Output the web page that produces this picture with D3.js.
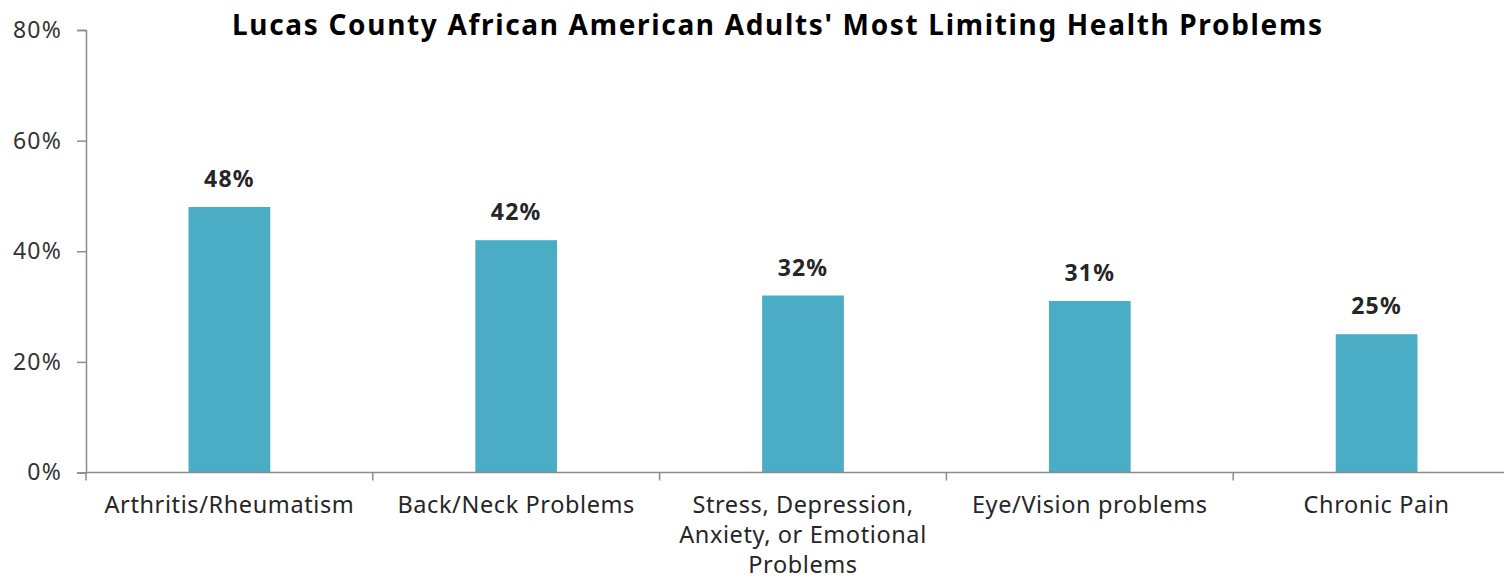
<!DOCTYPE html>
<html>
<head>
<meta charset="utf-8">
<script src="https://cdn.jsdelivr.net/npm/d3@7"></script>
<style>
  html, body { margin: 0; padding: 0; background: #fff; }
  svg { display: block; }
</style>
</head>
<body>
<svg id="chart" width="1504" height="580"></svg>
<script>
const title = "Lucas County African American Adults' Most Limiting Health Problems";
const categories = ["Arthritis/Rheumatism", "Back/Neck Problems", "Stress, Depression, Anxiety, or Emotional Problems", "Eye/Vision problems", "Chronic Pain"];
const categoryLines = [["Arthritis/Rheumatism"], ["Back/Neck Problems"], ["Stress, Depression,", "Anxiety, or Emotional", "Problems"], ["Eye/Vision problems"], ["Chronic Pain"]];
const values = [48, 42, 32, 31, 25];
const yTicks = [0, 20, 40, 60, 80];

(function () {
const svg = d3.select("#chart");
const font = "'Noto Sans', 'Open Sans', sans-serif";
const textColor = "#262626";
const axisColor = "#8c8c8c";
const barColor = "#4BACC6";

const plotLeft = 86, step = 286.8, plotTop = 30, plotBottom = 472.5;
const x = d3.scaleBand().domain(categories).range([plotLeft, plotLeft + step * categories.length])
  .paddingInner(0.715).paddingOuter(0.3575);
const xBand = d3.scaleBand().domain(categories).range([plotLeft, plotLeft + step * categories.length]).padding(0);
const y = d3.scaleLinear().domain([0, 80]).range([plotBottom, plotTop]);

// Title
svg.append("text")
  .attr("x", 777).attr("y", 35)
  .attr("text-anchor", "middle")
  .attr("font-family", font).attr("font-weight", "bold").attr("font-size", 28)
  .attr("textLength", 1090).attr("lengthAdjust", "spacing")
  .attr("fill", "#000")
  .text(title);

// Y axis
const yAxis = svg.append("g").attr("transform", `translate(${plotLeft},0)`)
  .call(d3.axisLeft(y).tickValues(yTicks).tickSize(9).tickPadding(15).tickFormat(d => d + "%"));
yAxis.select(".domain").attr("stroke", axisColor).attr("stroke-width", 1.5);
yAxis.selectAll(".tick line").attr("stroke", axisColor).attr("stroke-width", 1.5);
yAxis.selectAll(".tick text").attr("font-family", font).attr("font-size", 23)
  .attr("letter-spacing", 1.2).attr("fill", "#333");

// Bars
svg.append("g").selectAll("rect").data(values).join("rect")
  .attr("x", (d, i) => x(categories[i]))
  .attr("y", d => y(d))
  .attr("width", x.bandwidth())
  .attr("height", d => y(0) - y(d))
  .attr("fill", barColor);

// Data labels
svg.append("g").selectAll("text").data(values).join("text")
  .attr("x", (d, i) => x(categories[i]) + x.bandwidth() / 2)
  .attr("y", d => y(d) - 20)
  .attr("text-anchor", "middle")
  .attr("font-family", font).attr("font-weight", "bold").attr("font-size", 23)
  .attr("letter-spacing", 1.2)
  .attr("fill", textColor)
  .text(d => d + "%");

// X axis line
svg.append("line")
  .attr("x1", plotLeft).attr("x2", 1504)
  .attr("y1", y(0)).attr("y2", y(0))
  .attr("stroke", axisColor).attr("stroke-width", 1.5);

// X ticks at category boundaries
svg.append("g").selectAll("line").data(categories).join("line")
  .attr("x1", d => xBand(d)).attr("x2", d => xBand(d))
  .attr("y1", y(0)).attr("y2", y(0) + 8)
  .attr("stroke", axisColor).attr("stroke-width", 1.5);

// Category labels
const labels = svg.append("g").selectAll("text").data(categories).join("text")
  .attr("text-anchor", "middle")
  .attr("font-family", font).attr("font-size", 23.5)
  .attr("letter-spacing", 0.6)
  .attr("fill", textColor);
labels.each(function(d, i) {
  const t = d3.select(this);
  categoryLines[i].forEach((line, j) => {
    t.append("tspan")
      .attr("x", xBand(d) + xBand.bandwidth() / 2)
      .attr("y", 513 + j * 30)
      .text(line);
  });
});
})();
</script>
</body>
</html>
